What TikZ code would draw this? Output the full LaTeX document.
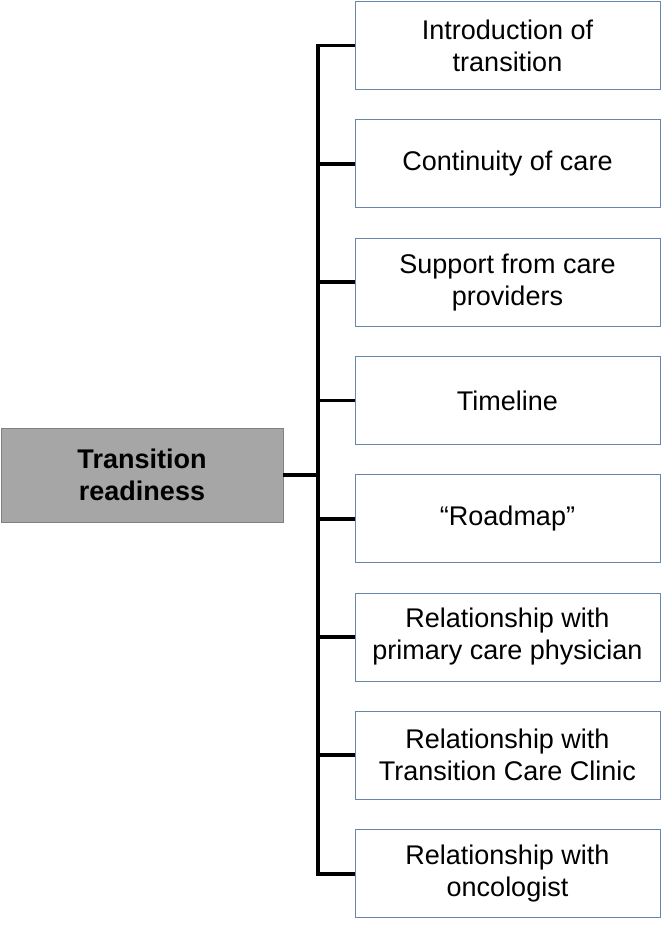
\documentclass[tikz,border=0pt]{standalone}
\usepackage{fontspec}
\setmainfont{Liberation Sans}
\usetikzlibrary{positioning}

\definecolor{boxedge}{RGB}{105,135,170}
\definecolor{rootfill}{RGB}{166,166,166}
\definecolor{rootedge}{RGB}{128,128,128}

\begin{document}
\begin{tikzpicture}[x=1pt, y=-1pt,
    topic/.style={draw=boxedge, line width=0.9pt, fill=white, minimum width=305pt,
        minimum height=88pt, inner sep=0pt, align=center,
        font=\fontsize{27}{32}\selectfont},
    rootbox/.style={draw=rootedge, line width=0.9pt, fill=rootfill, minimum width=282pt,
        minimum height=94pt, inner sep=0pt, align=center,
        font=\fontsize{27}{32}\selectfont\bfseries},
    link/.style={line width=3.8pt, line join=miter}]

    % Moldura
    \useasboundingbox (0,0) rectangle (664,925);

    % Nó central
    \node[rootbox] (root) at (142,475) {Transition\\readiness};

    % Caixas da direita
    \def\Bx{507.5}   % centro horizontal
    \def\By{45.5}    % centro da primeira caixa
    \def\Bd{118.3}   % distância entre caixas
    \foreach \i/\txt in {1/{Introduction of\\transition},
                         2/{Continuity of care},
                         3/{Support from care\\providers},
                         4/{Timeline},
                         5/{“Roadmap”},
                         6/{Relationship with\\primary care physician},
                         7/{Relationship with\\Transition Care Clinic},
                         8/{Relationship with\\oncologist}}
        \node[topic] (b\i) at (\Bx,{\By+(\i-1)*\Bd}) {\txt};

    % Tronco vertical
    \coordinate (spine) at (318,0);
    \draw[link] (b1.west) -- (b1.west -| spine) -- (b8.west -| spine) -- (b8.west);

    % Ramos
    \foreach \i in {2,...,7}
        \draw[link] (b\i.west -| spine) -- (b\i.west);
    \draw[link] (root.east) -- (root.east -| spine);

\end{tikzpicture}
\end{document}
